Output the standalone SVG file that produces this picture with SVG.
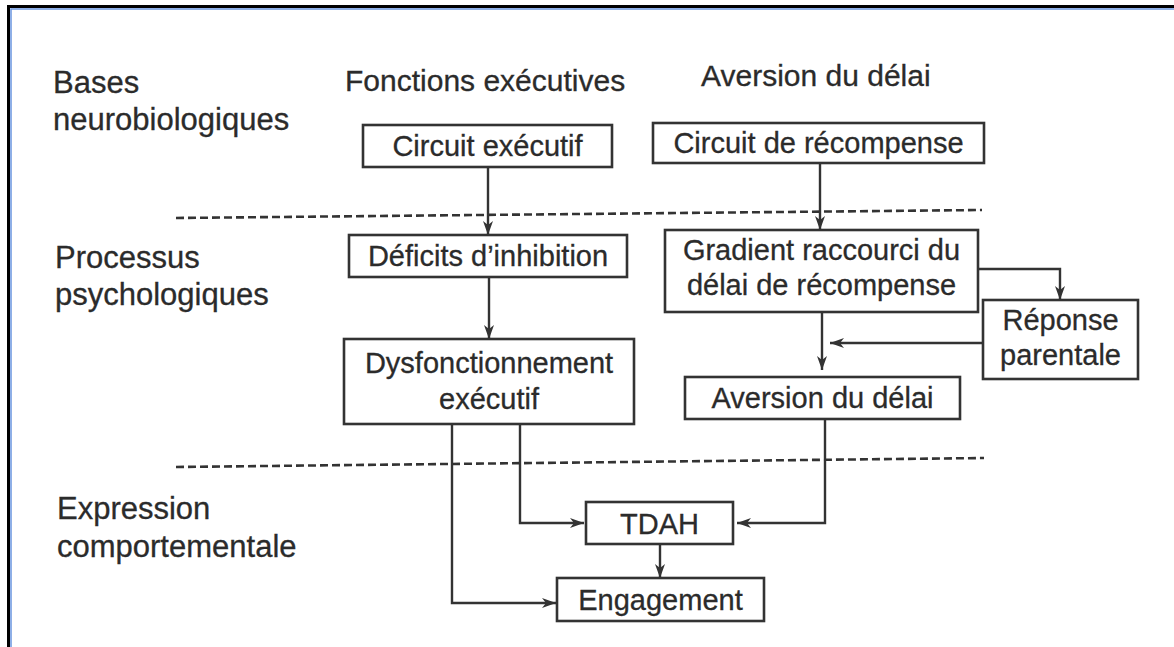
<svg xmlns="http://www.w3.org/2000/svg" width="1174" height="647" viewBox="0 0 1174 647">
<style>
.box{fill:#fff;stroke:#333;stroke-width:2.6}
.t{font-family:"Liberation Sans",Arial,sans-serif;fill:#2b2b2b;stroke:#2b2b2b;stroke-width:0.3;text-anchor:middle;font-size:29px}
.lab{font-family:"Liberation Sans",Arial,sans-serif;fill:#2b2b2b;stroke:#2b2b2b;stroke-width:0.3;font-size:31px}
.hdr{font-family:"Liberation Sans",Arial,sans-serif;fill:#2b2b2b;stroke:#2b2b2b;stroke-width:0.3;font-size:30px}
.c{fill:none;stroke:#333;stroke-width:2.4}
.d{fill:none;stroke:#333;stroke-width:2.6;stroke-dasharray:8 4}
</style>
<defs>
<marker id="ah" markerUnits="userSpaceOnUse" markerWidth="14" markerHeight="10" refX="14" refY="5" orient="auto">
<path d="M0,0 L14,5 L0,10 L4,5 z" fill="#333"/>
</marker>
</defs>
<rect width="1174" height="647" fill="#fff"/>
<g id="frame">
<path d="M8.5,647 V6.5 H1174" fill="none" stroke="#000" stroke-width="3"/>
<path d="M11,647 V9 H1174" fill="none" stroke="#6a95e0" stroke-width="1.5"/>
</g>
<g id="labels">
<text class="lab" x="53" y="93">Bases</text>
<text class="lab" x="53" y="130">neurobiologiques</text>
<text class="lab" x="55" y="268">Processus</text>
<text class="lab" x="55" y="305">psychologiques</text>
<text class="lab" x="57" y="519">Expression</text>
<text class="lab" x="57" y="557">comportementale</text>
<text class="hdr" x="345" y="91">Fonctions exécutives</text>
<text class="hdr" x="701" y="86">Aversion du délai</text>
</g>
<g id="separators">
<line class="d" x1="176" y1="218" x2="982" y2="210"/>
<line class="d" x1="176" y1="467" x2="984" y2="458"/>
</g>
<g id="connectors">
<path class="c" d="M488,167 V235" marker-end="url(#ah)"/>
<path class="c" d="M820,163 V230" marker-end="url(#ah)"/>
<path class="c" d="M489,277 V339" marker-end="url(#ah)"/>
<path class="c" d="M978,269 H1060 V300" marker-end="url(#ah)"/>
<path class="c" d="M822,312 V370" marker-end="url(#ah)"/>
<path class="c" d="M983,343 H830" marker-end="url(#ah)"/>
<path class="c" d="M452,424 V603 H556" marker-end="url(#ah)"/>
<path class="c" d="M520,424 V523 H584" marker-end="url(#ah)"/>
<path class="c" d="M825,419 V523 H737" marker-end="url(#ah)"/>
<path class="c" d="M660,544 V578" marker-end="url(#ah)"/>
</g>
<g id="circuit-executif">
<rect class="box" x="363" y="125" width="249" height="42"/>
<text class="t" x="487.5" y="156">Circuit exécutif</text>
</g>
<g id="circuit-recompense">
<rect class="box" x="653" y="123" width="331" height="40"/>
<text class="t" x="818.5" y="153">Circuit de récompense</text>
</g>
<g id="deficits-inhibition">
<rect class="box" x="349" y="235" width="278" height="42"/>
<text class="t" x="488" y="266">Déficits d’inhibition</text>
</g>
<g id="gradient">
<rect class="box" x="665" y="230" width="313" height="82"/>
<text class="t" x="821.5" y="260">Gradient raccourci du</text>
<text class="t" x="821.5" y="295">délai de récompense</text>
</g>
<g id="reponse-parentale">
<rect class="box" x="983" y="300" width="155" height="79"/>
<text class="t" x="1060.5" y="330">Réponse</text>
<text class="t" x="1060.5" y="365">parentale</text>
</g>
<g id="dysfonctionnement">
<rect class="box" x="344" y="339" width="290" height="85"/>
<text class="t" x="489" y="373">Dysfonctionnement</text>
<text class="t" x="489" y="409">exécutif</text>
</g>
<g id="aversion-delai">
<rect class="box" x="685" y="377" width="275" height="42"/>
<text class="t" x="822.5" y="408">Aversion du délai</text>
</g>
<g id="tdah">
<rect class="box" x="586" y="502" width="147" height="42"/>
<text class="t" x="659.5" y="534">TDAH</text>
</g>
<g id="engagement">
<rect class="box" x="557" y="578" width="207" height="43"/>
<text class="t" x="660.5" y="610">Engagement</text>
</g>
</svg>
